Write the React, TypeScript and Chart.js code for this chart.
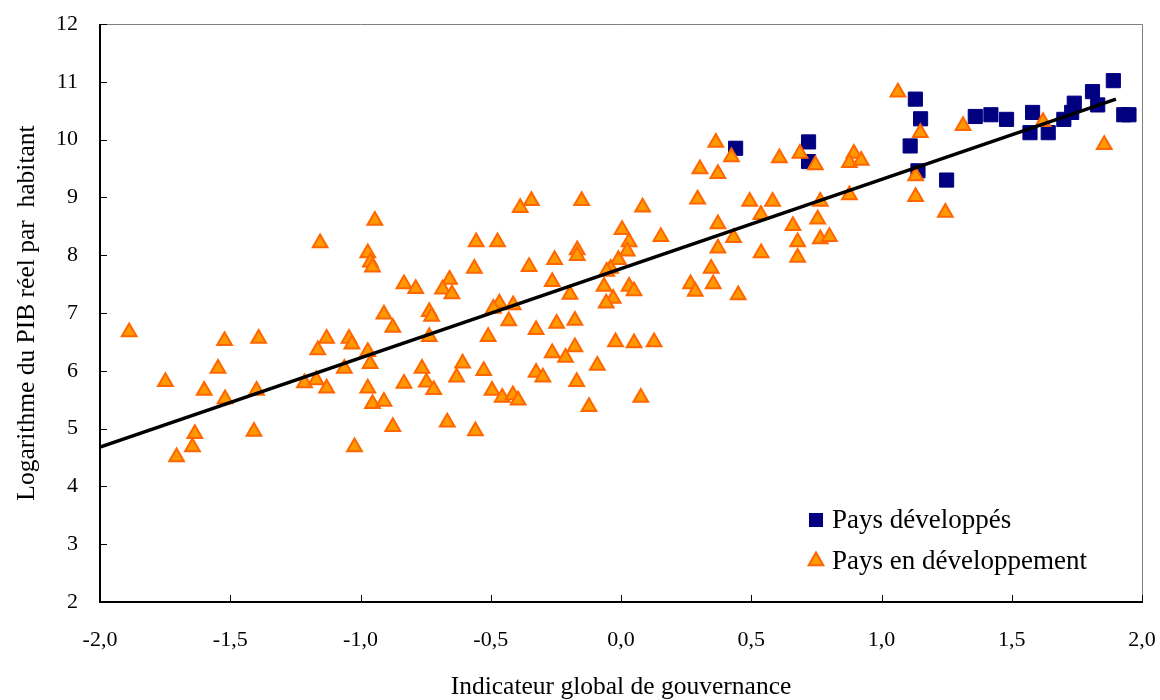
import React, { useEffect, useRef } from "react";
import { Chart, registerables } from "chart.js";

Chart.register(...registerables);

// Pays développés (squares)
const devX = [0.44, 0.72, 0.72, 1.11, 1.13, 1.15, 1.14, 1.25, 1.36, 1.42, 1.48, 1.58, 1.57, 1.64, 1.70, 1.73, 1.74, 1.81, 1.83, 1.89, 1.93, 1.95];
const devY = [9.85, 9.96, 9.62, 9.89, 10.70, 10.36, 9.46, 9.30, 10.40, 10.43, 10.35, 10.47, 10.12, 10.12, 10.35, 10.47, 10.63, 10.83, 10.60, 11.02, 10.43, 10.43];

// Pays en développement (triangles)
const pedX = [
  -1.888, -1.749, -1.522, -1.391, -1.547, -1.600, -1.520, -1.399, -1.636, -1.645, -1.706, -1.409,
  -1.215, -1.170, -1.130, -1.164, -1.130, -1.062,
  -0.945, -1.155, -0.972, -0.962, -0.954, -0.833, -0.788, -0.658, -0.685, -0.649, -0.556, -0.563,
  -0.910, -0.876, -0.736, -0.727, -0.736, -1.044, -1.033, -0.972, -0.963, -0.972, -0.954, -0.910,
  -0.833, -0.764, -0.747, -0.719, -0.608, -0.631, -0.876, -0.667, -1.023, -0.559,
  -0.344, -0.387, -0.151, 0.083, -0.474, 0.004, 0.031, 0.153, -0.168, -0.168, -0.255, -0.353,
  0.024, -0.010, -0.040, -0.055, -0.264, -0.065, 0.031, 0.050, -0.196, -0.030, -0.057, -0.467,
  -0.490, -0.414, -0.431, -0.510, -0.326, -0.247, -0.177, -0.021, 0.050, 0.127, -0.527, -0.264,
  -0.213, -0.177, -0.091, -0.326, -0.300, -0.170, -0.495, -0.456, -0.415, -0.395, -0.123, 0.076,
  0.364, 0.424, 0.303, 0.372, 0.608, 0.687, 0.746, 0.894, 0.877, 0.922, 1.149, 1.131, 1.131,
  1.245, 0.294, 0.494, 0.582, 0.537, 0.765, 0.877, 0.755, 0.660, 0.372, 0.432, 0.372, 0.678,
  0.765, 0.800, 0.538, 0.678, 0.346, 0.267, 0.285, 0.354, 0.450,
  1.063, 1.313, 1.620, 1.855,
];
const pedY = [
  6.67, 5.81, 6.52, 6.56, 6.04, 5.66, 5.51, 5.66, 4.91, 4.68, 4.51, 4.95,
  5.79, 5.84, 5.70, 6.36, 6.56, 6.04,
  8.60, 8.21, 8.04, 7.88, 7.79, 7.50, 7.42, 7.58, 7.41, 7.33, 8.23, 7.77,
  6.98, 6.75, 7.02, 6.94, 6.59, 6.56, 6.46, 6.33, 6.12, 5.70, 5.43, 5.47,
  5.78, 6.04, 5.80, 5.67, 6.13, 5.89, 5.03, 5.11, 4.68, 4.96,
  8.94, 8.82, 8.94, 8.83, 8.23, 8.44, 8.23, 8.32, 8.09, 7.99, 7.92, 7.80,
  8.07, 7.92, 7.77, 7.72, 7.54, 7.46, 7.46, 7.38, 7.32, 7.25, 7.17, 7.17,
  7.08, 7.14, 6.86, 6.59, 6.71, 6.82, 6.87, 6.50, 6.48, 6.50, 6.00, 6.31,
  6.23, 6.41, 6.09, 5.97, 5.89, 5.81, 5.66, 5.54, 5.58, 5.49, 5.38, 5.54,
  9.95, 9.70, 9.49, 9.41, 9.68, 9.76, 9.56, 9.76, 9.60, 9.64, 10.12, 9.37, 9.01,
  8.74, 8.97, 8.93, 8.93, 8.70, 8.93, 9.04, 8.62, 8.51, 8.54, 8.30, 8.12, 8.23,
  8.28, 8.32, 8.04, 7.96, 7.77, 7.50, 7.37, 7.50, 7.31,
  10.82, 10.24, 10.31, 9.91,
];

// Regression line end points
const fitX = [-2.0, 1.9];
const fitY = [4.68, 10.70];

const xTicks = [-2.0, -1.5, -1.0, -0.5, 0.0, 0.5, 1.0, 1.5, 2.0];
const yTicks = [2, 3, 4, 5, 6, 7, 8, 9, 10, 11, 12];

const seriesNames = ["Pays développés", "Pays en développement"];
const xTitle = "Indicateur global de gouvernance";
const yTitle = "Logarithme du PIB réel par  habitant";

const FONT = "'Liberation Serif', 'Times New Roman', serif";
const NAVY = "#000080";
const ORANGE = "#FF9900";
const ORANGE_EDGE = "#FF6600";

const framePlugin = {
  id: "frameTicks",
  beforeDatasetsDraw(chart: any) {
    const { ctx, chartArea: a, scales } = chart;
    ctx.save();
    ctx.strokeStyle = "#808080";
    ctx.lineWidth = 1;
    ctx.beginPath();
    ctx.moveTo(a.left, a.top + 0.5);
    ctx.lineTo(a.right + 0.5, a.top + 0.5);
    ctx.lineTo(a.right + 0.5, a.bottom);
    ctx.stroke();
    ctx.strokeStyle = "#000";
    ctx.lineWidth = 1;
    ctx.beginPath();
    for (const v of yTicks) {
      const y = Math.round(scales.y.getPixelForValue(v)) + 0.5;
      ctx.moveTo(a.left, y);
      ctx.lineTo(a.left + 7, y);
    }
    for (const v of xTicks) {
      const x = Math.round(scales.x.getPixelForValue(v)) + 0.5;
      ctx.moveTo(x, a.bottom);
      ctx.lineTo(x, a.bottom - 7);
    }
    ctx.stroke();
    ctx.lineWidth = 2;
    ctx.beginPath();
    ctx.moveTo(a.left, a.top);
    ctx.lineTo(a.left, a.bottom);
    ctx.lineTo(a.right + 1, a.bottom);
    ctx.stroke();
    ctx.restore();
  },
  afterDraw(chart: any) {
    const { ctx, chartArea: a } = chart;
    ctx.save();
    const lx = a.left + 716;
    const ly1 = a.top + 496;
    const ly2 = a.top + 537;
    // square
    ctx.fillStyle = NAVY;
    ctx.fillRect(lx - 7, ly1 - 7, 14, 14);
    // triangle
    const r = 8.5;
    ctx.fillStyle = ORANGE;
    ctx.strokeStyle = ORANGE_EDGE;
    ctx.lineWidth = 2;
    ctx.beginPath();
    ctx.moveTo(lx, ly2 - r);
    ctx.lineTo(lx + 0.866 * r, ly2 + 0.5 * r);
    ctx.lineTo(lx - 0.866 * r, ly2 + 0.5 * r);
    ctx.closePath();
    ctx.fill();
    ctx.stroke();
    ctx.fillStyle = "#000";
    ctx.font = `27px ${FONT}`;
    ctx.textBaseline = "middle";
    ctx.textAlign = "left";
    ctx.fillText(seriesNames[0], lx + 16, ly1 + 1);
    ctx.fillText(seriesNames[1], lx + 16, ly2 + 1);
    ctx.restore();
  },
};

export default function App() {
  const ref = useRef<HTMLCanvasElement>(null);
  useEffect(() => {
    document.body.style.margin = "0";
    const canvas = ref.current;
    if (!canvas) return;
    const chart = new Chart(canvas, {
      type: "scatter",
      data: {
        datasets: [
          {
            type: "line",
            label: "fit",
            data: fitX.map((x, i) => ({ x, y: fitY[i] })),
            borderColor: "#000",
            borderWidth: 3.5,
            pointRadius: 0,
            fill: false,
            order: 0,
          } as any,
          {
            label: seriesNames[1],
            data: pedX.map((x, i) => ({ x, y: pedY[i] })),
            pointStyle: "triangle",
            pointRadius: 8.5,
            backgroundColor: ORANGE,
            borderColor: ORANGE_EDGE,
            borderWidth: 2,
            order: 1,
          },
          {
            label: seriesNames[0],
            data: devX.map((x, i) => ({ x, y: devY[i] })),
            pointStyle: "rect",
            pointRadius: 10,
            backgroundColor: NAVY,
            borderColor: NAVY,
            borderWidth: 1,
            order: 2,
          },
        ],
      },
      options: {
        responsive: false,
        animation: false,
        layout: { padding: { top: 24, right: 18, left: 0, bottom: 0 } },
        plugins: {
          legend: { display: false },
          tooltip: { enabled: false },
        },
        scales: {
          x: {
            type: "linear",
            min: -2,
            max: 2,
            afterFit: (s: any) => {
              s.height = 98;
            },
            afterBuildTicks: (s: any) => {
              s.ticks = xTicks.map((v) => ({ value: v }));
            },
            grid: { display: false, drawTicks: true, tickLength: 25 },
            border: { display: false },
            ticks: {
              padding: 0,
              color: "#000",
              font: { family: FONT, size: 22 },
              callback: (v: any) => Number(v).toFixed(1).replace(".", ","),
              maxRotation: 0,
            },
            title: {
              display: true,
              text: xTitle,
              color: "#000",
              font: { family: FONT, size: 25.5 },
              padding: { top: 0, bottom: -3 },
            },
          },
          y: {
            type: "linear",
            min: 2,
            max: 12,
            afterFit: (s: any) => {
              s.width = 100;
            },
            afterBuildTicks: (s: any) => {
              s.ticks = yTicks.map((v) => ({ value: v }));
            },
            grid: { display: false, drawTicks: true, tickLength: 22 },
            border: { display: false },
            ticks: {
              padding: 0,
              color: "#000",
              font: { family: FONT, size: 22 },
              callback: (v: any) => String(v),
            },
            title: {
              display: true,
              text: yTitle,
              color: "#000",
              font: { family: FONT, size: 25.5 },
              padding: { top: 12, bottom: 0 },
            },
          },
        },
      },
      plugins: [framePlugin],
    });
    return () => chart.destroy();
  }, []);
  return (
    <div style={{ width: 1160, height: 700 }}>
      <canvas ref={ref} width={1160} height={700} style={{ display: "block" }} />
    </div>
  );
}
